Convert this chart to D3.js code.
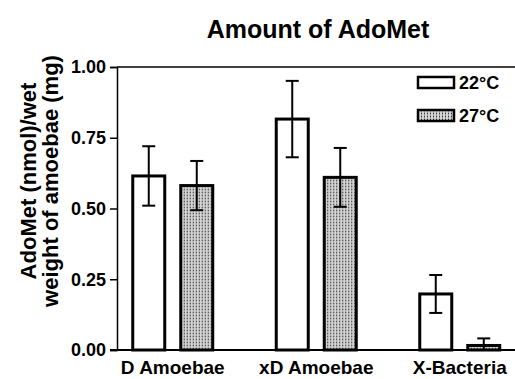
<!DOCTYPE html>
<html>
<head>
<meta charset="utf-8">
<script src="https://cdn.jsdelivr.net/npm/d3@7"></script>
<style>
  body { margin: 0; background: #fff; }
  text { font-family: "Liberation Sans", Arial, Helvetica, sans-serif; font-weight: bold; fill: #000; }
</style>
</head>
<body>
<svg width="515" height="379"></svg>
<script>
var width = 515;
var height = 379;

var categories = ["D Amoebae", "xD Amoebae", "X-Bacteria"];
var series = ["22°C", "27°C"];
var mean22 = [0.615, 0.816, 0.198];
var err22 = [0.105, 0.135, 0.067];
var mean27 = [0.581, 0.610, 0.016];
var err27 = [0.087, 0.104, 0.025];
var yTicks = [0, 0.25, 0.5, 0.75, 1.0];

var svg = d3.select("svg");

var y = d3.scaleLinear().domain([0, 1]).range([350, 67]);
var x = d3.scaleBand().domain(categories).range([101, 531.5]).padding(0);
var xs = d3.scaleBand().domain(series)
    .range([x.bandwidth()/2 - 40, x.bandwidth()/2 + 40]).paddingInner(1/3);

// dotted grey texture for 27°C bars
var pat = svg.append("defs").append("pattern")
    .attr("id", "dots")
    .attr("patternUnits", "userSpaceOnUse")
    .attr("width", 3).attr("height", 3);
pat.append("rect").attr("width", 3).attr("height", 3).attr("fill", "#d4d4d4");
pat.append("rect").attr("width", 1).attr("height", 3).attr("fill", "#9a9a9a");
pat.append("rect").attr("width", 1).attr("height", 1).attr("fill", "#333");

var fills = {"22°C": "#fff", "27°C": "url(#dots)"};

var rows = [];
categories.forEach(function(c, i) {
    rows.push({cat: c, s: "22°C", v: mean22[i], e: err22[i]});
    rows.push({cat: c, s: "27°C", v: mean27[i], e: err27[i]});
});

// frame line on top
svg.append("line").attr("x1", 117).attr("x2", width).attr("y1", y(1)).attr("y2", y(1))
    .attr("stroke", "#000").attr("stroke-width", 1.5);

var bars = svg.append("g").selectAll("g").data(rows).enter().append("g")
    .attr("transform", function(d) { return "translate(" + (x(d.cat) + xs(d.s)) + ",0)"; });

bars.append("rect")
    .attr("x", 0)
    .attr("y", function(d) { return y(d.v); })
    .attr("width", xs.bandwidth())
    .attr("height", function(d) { return y(0) - y(d.v); })
    .attr("fill", function(d) { return fills[d.s]; })
    .attr("stroke", "#000").attr("stroke-width", 3);

var bw = xs.bandwidth();
bars.append("line")
    .attr("x1", bw/2).attr("x2", bw/2)
    .attr("y1", function(d) { return y(d.v + d.e); })
    .attr("y2", function(d) { return y(Math.max(0, d.v - d.e)); })
    .attr("stroke", "#000").attr("stroke-width", 2);
bars.append("line")
    .attr("x1", bw/2 - 6.5).attr("x2", bw/2 + 6.5)
    .attr("y1", function(d) { return y(d.v + d.e); })
    .attr("y2", function(d) { return y(d.v + d.e); })
    .attr("stroke", "#000").attr("stroke-width", 2);
bars.filter(function(d) { return d.v - d.e > 0; }).append("line")
    .attr("x1", bw/2 - 6.5).attr("x2", bw/2 + 6.5)
    .attr("y1", function(d) { return y(d.v - d.e); })
    .attr("y2", function(d) { return y(d.v - d.e); })
    .attr("stroke", "#000").attr("stroke-width", 2);

// y axis
var yAxis = svg.append("g").attr("transform", "translate(117,0)")
    .call(d3.axisLeft(y).tickValues(yTicks).tickFormat(d3.format(".2f")).tickSize(7).tickPadding(4));
yAxis.select(".domain").attr("stroke-width", 1.5);
yAxis.selectAll(".tick line").attr("stroke-width", 1.5);
yAxis.selectAll("text").style("font-size", "18px");

// x axis
svg.append("line").attr("x1", 110).attr("x2", width).attr("y1", y(0)).attr("y2", y(0))
    .attr("stroke", "#000").attr("stroke-width", 2);
var xAxis = svg.append("g").attr("transform", "translate(0," + y(0) + ")")
    .call(d3.axisBottom(x).tickSize(0).tickPadding(11));
xAxis.select(".domain").remove();
xAxis.selectAll("text").style("font-size", "19px");

// title
svg.append("text").attr("x", 318).attr("y", 38).attr("text-anchor", "middle")
    .style("font-size", "25px").text("Amount of AdoMet");

// y label
var yl = svg.append("text").attr("transform", "translate(0,181) rotate(-90)")
    .attr("text-anchor", "middle").style("font-size", "22px");
yl.append("tspan").attr("x", 0).attr("y", 36).text("AdoMet (nmol)/wet");
yl.append("tspan").attr("x", 0).attr("y", 58).text("weight of amoebae (mg)");

// legend
var lg = svg.append("g").selectAll("g").data(series).enter().append("g")
    .attr("transform", function(d, i) { return "translate(418," + (77 + i * 33) + ")"; });
lg.append("rect").attr("width", 36).attr("height", 11)
    .attr("fill", function(d) { return fills[d]; })
    .attr("stroke", "#000").attr("stroke-width", 2.5);
lg.append("text").attr("x", 41).attr("y", 12).style("font-size", "18px")
    .text(function(d) { return d; });
</script>
</body>
</html>
